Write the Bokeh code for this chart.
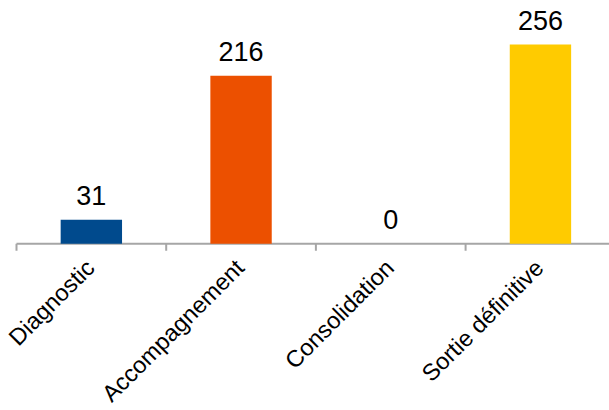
import math
from bokeh.plotting import figure
from bokeh.models import Range1d, ColumnDataSource
from bokeh.core.properties import value
from bokeh.embed import file_html
from bokeh.resources import INLINE

categories = ["Diagnostic", "Accompagnement", "Consolidation", "Sortie définitive"]
values = [31, 216, 0, 256]
colors = ["#004A8D", "#EC5000", "#FFCB00", "#FFCB00"]

centers = [i + 0.5 for i in range(len(categories))]
bounds = [float(i) for i in range(len(categories) + 1)]

src = ColumnDataSource(dict(x=centers, top=values, color=colors,
                            label=[str(v) for v in values], cat=categories))

CAT_PX = 149.7
p = figure(width=609, height=410, output_backend="svg", toolbar_location=None,
           x_range=Range1d(-16 / CAT_PX, 593 / CAT_PX),
           y_range=Range1d(-214.3, 312.7),
           min_border_left=0, min_border_right=0, min_border_top=0,
           min_border_bottom=0)
p.outline_line_color = None
p.background_fill_color = "white"
p.border_fill_color = "white"
p.grid.visible = False
p.xaxis.visible = False
p.yaxis.visible = False

GRAY = "#A6A6A6"
# category axis line and boundary ticks
p.line(x=[bounds[0], bounds[-1]], y=[0, 0], line_color=GRAY, line_width=2,
       level="underlay")
p.ray(x=bounds, y=[0] * len(bounds), length=7, length_units="screen",
      angle=-math.pi / 2, line_color=GRAY, line_width=2)

p.vbar(x="x", top="top", width=0.41, bottom=0, fill_color="color",
       line_color=None, source=src)
p.text(x="x", y="top", text="label", source=src, text_align="center",
       text_baseline="alphabetic", y_offset=-24, text_font_size="27px",
       text_font=value("Liberation Sans"), text_color="black")

# rotated category labels
p.text(x="x", y=0, text="cat", source=src, angle=math.pi / 4,
       text_align="right", text_baseline="middle", x_offset=-1, y_offset=20,
       text_font_size="23.5px", text_font=value("Liberation Sans"),
       text_color="black")

open("out.html", "w").write(file_html(p, INLINE))
